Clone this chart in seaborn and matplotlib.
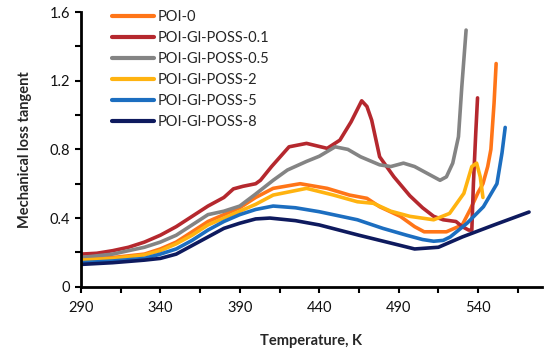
import numpy as np
import pandas as pd
import matplotlib
matplotlib.use("Agg")
import matplotlib.pyplot as plt
import seaborn as sns

series_names = ["POI-0", "POI-Gl-POSS-0.1", "POI-Gl-POSS-0.5",
                "POI-Gl-POSS-2", "POI-Gl-POSS-5", "POI-Gl-POSS-8"]
colors = ["#FF7518", "#B5282E", "#848484", "#FFB310", "#1C6EC0", "#0E1A5E"]

x_ticks = [290, 340, 390, 440, 490, 540]
x_minor = [315, 365, 415, 465, 515, 565]
y_ticks = [0, 0.4, 0.8, 1.2, 1.6]
y_labels = ["0", "0.4", "0.8", "1.2", "1.6"]
y_minor = [0.2, 0.6, 1.0, 1.4]

t_poi0 = [290, 310, 330, 340, 350, 360, 370, 380, 390, 400, 411, 428, 445, 459, 470, 478, 491, 500, 506, 520, 530, 535, 540, 543, 546, 548, 550, 551.3]
v_poi0 = [0.16, 0.17, 0.19, 0.22, 0.26, 0.32, 0.38, 0.42, 0.46, 0.52, 0.573, 0.60, 0.573, 0.534, 0.515, 0.466, 0.41, 0.35, 0.32, 0.32, 0.36, 0.45, 0.55, 0.60, 0.70, 0.80, 1.07, 1.30]

t_p01 = [290, 300, 310, 320, 330, 340, 350, 360, 370, 380, 386, 392, 400, 403, 410, 421, 432, 445, 453, 460, 466.7, 470, 473, 478, 487, 497, 505, 512, 518, 526, 530, 534, 536, 537, 538.5, 539.6]
v_p01 = [0.19, 0.195, 0.21, 0.23, 0.26, 0.30, 0.35, 0.41, 0.47, 0.52, 0.57, 0.585, 0.60, 0.62, 0.70, 0.815, 0.835, 0.806, 0.854, 0.96, 1.083, 1.05, 0.97, 0.757, 0.64, 0.53, 0.46, 0.41, 0.39, 0.38, 0.35, 0.33, 0.33, 0.60, 0.90, 1.10]

t_p05 = [290, 310, 330, 340, 350, 360, 370, 380, 390, 400, 411, 420, 432, 440, 450, 458, 466, 478, 485, 493, 500, 510, 516, 520, 524, 527.6, 529.7, 532.4]
v_p05 = [0.17, 0.19, 0.23, 0.26, 0.30, 0.36, 0.42, 0.44, 0.47, 0.54, 0.62, 0.68, 0.73, 0.76, 0.815, 0.80, 0.757, 0.71, 0.70, 0.72, 0.70, 0.65, 0.62, 0.64, 0.72, 0.874, 1.165, 1.495]

t_p2 = [290, 310, 330, 340, 350, 360, 370, 380, 390, 400, 411, 432, 449, 464, 474, 485, 497, 512, 522, 531, 536, 539, 541.3, 543]
v_p2 = [0.155, 0.165, 0.185, 0.21, 0.25, 0.30, 0.36, 0.40, 0.44, 0.48, 0.534, 0.573, 0.534, 0.495, 0.486, 0.44, 0.41, 0.39, 0.427, 0.544, 0.70, 0.72, 0.64, 0.52]

t_p5 = [290, 310, 330, 340, 350, 360, 370, 380, 390, 400, 411, 425, 440, 464, 480, 495, 505, 512, 518, 522.4, 533, 543.3, 551.8, 555, 557]
v_p5 = [0.14, 0.15, 0.165, 0.19, 0.22, 0.27, 0.33, 0.38, 0.42, 0.45, 0.47, 0.46, 0.437, 0.39, 0.34, 0.30, 0.275, 0.265, 0.27, 0.29, 0.37, 0.466, 0.60, 0.78, 0.928]

t_p8 = [290, 310, 330, 340, 350, 360, 370, 380, 390, 400, 409, 425, 440, 465, 490, 500, 515, 530, 550, 572]
v_p8 = [0.13, 0.14, 0.155, 0.165, 0.19, 0.24, 0.29, 0.34, 0.37, 0.395, 0.40, 0.385, 0.36, 0.30, 0.243, 0.22, 0.23, 0.29, 0.36, 0.435]

all_t = [t_poi0, t_p01, t_p05, t_p2, t_p5, t_p8]
all_v = [v_poi0, v_p01, v_p05, v_p2, v_p5, v_p8]

frames = []
for name, t, v in zip(series_names, all_t, all_v):
    frames.append(pd.DataFrame({"T": t, "v": v, "series": name}))
df = pd.concat(frames, ignore_index=True)

sns.set_style("white")
plt.rcParams["font.family"] = ["Lato", "DejaVu Sans"]

fig = plt.figure(figsize=(5.5, 3.54), dpi=100)
ax = fig.add_axes([0.147, 0.19, 0.838, 0.776])

sns.lineplot(data=df, x="T", y="v", hue="series", hue_order=series_names,
             palette=dict(zip(series_names, colors)), sort=False,
             estimator=None, units="series", linewidth=2.6, ax=ax)

ax.set_xlim(290, 580)
ax.set_ylim(0, 1.6)
ax.set_xticks(x_ticks)
ax.set_xticks(x_minor, minor=True)
ax.set_xticklabels([str(v) for v in x_ticks])
ax.set_yticks(y_ticks)
ax.set_yticks(y_minor, minor=True)
ax.set_yticklabels(y_labels)

for s in ["top", "right"]:
    ax.spines[s].set_visible(False)
for s in ["left", "bottom"]:
    ax.spines[s].set_color("black")
    ax.spines[s].set_linewidth(2.0)
ax.tick_params(which="both", direction="out", length=4, width=1.5,
               color="black", labelsize=10.5, labelcolor="#111111",
               left=True, bottom=True)
ax.tick_params(axis="x", pad=6)

ax.set_xlabel("Temperature, K", fontsize=10.5, fontweight="bold", labelpad=14)
ax.set_ylabel("Mechanical loss tangent", fontsize=10.5, fontweight="bold", labelpad=13)

leg = ax.legend(loc="upper left", bbox_to_anchor=(0.055, 1.03), frameon=False,
                fontsize=10.5, handlelength=2.9, handletextpad=0.2,
                labelspacing=0.48, borderaxespad=0)
for line in leg.get_lines():
    line.set_linewidth(3.0)

fig.savefig("out.png", dpi=100)
